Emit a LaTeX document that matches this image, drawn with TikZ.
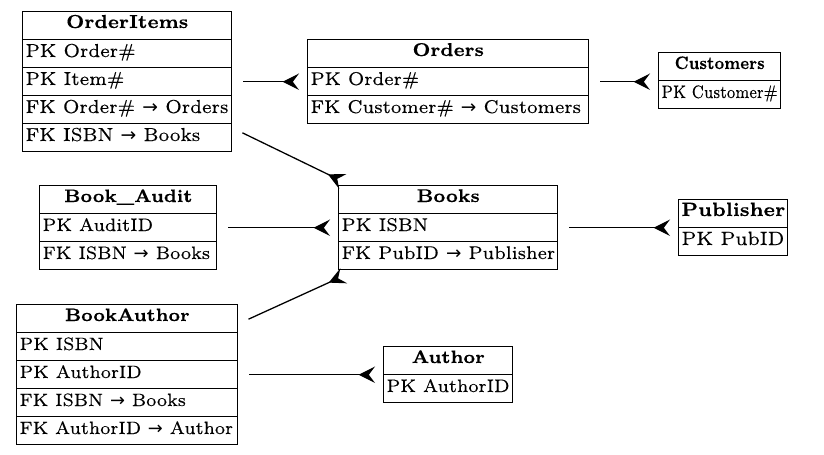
\documentclass[tikz,border=0pt]{standalone}
\usepackage{fontspec}
\setmainfont{lmroman7-regular.otf}[BoldFont=lmroman7-bold.otf, FakeBold=0.3]
\newfontfamily\cufont{lmroman7-regular.otf}[BoldFont=lmroman7-bold.otf, FakeStretch=0.83, FakeBold=0.3]
\newfontfamily\arrfont{DejaVu Sans}
\usetikzlibrary{arrows.meta,calc}
\newdimen\px
\px=0.3889pt
\def\tfs{7}
\def\tff{\relax}
\newcommand\ar{{\arrfont →}}
\tikzset{
  x=\px, y=-\px,
  tblbox/.style={draw, line width=0.58pt, anchor=north west, inner sep=0pt, minimum height=28*\px, minimum width=#1*\px},
  headtext/.style={anchor=base, inner sep=0pt, font=\tff\fontsize{\tfs}{9}\selectfont\bfseries},
  rowtext/.style={anchor=base west, inner sep=0pt, font=\tff\fontsize{\tfs}{9}\selectfont},
  rel/.style={line width=0.5pt, -{Stealth[reversed, length=6.4pt, width=6.4pt, inset=2.4pt]}, shorten <=11*\px, shorten >=8*\px},
}
\newcommand\tblhead[5]{%
  \node[tblbox=#4] (#1) at (#2,#3) {};
  \node[headtext] (#1t) at ($(#1.north)+(0,17)$) {#5};}
\newcommand\tblrow[5]{%
  \node[tblbox=#4] (#1) at (#2,#3) {};
  \node[rowtext] (#1t) at ($(#1.north west)+(3,18)$) {#5};}
\begin{document}
\begin{tikzpicture}
\useasboundingbox (0,0) rectangle (824,455);
% OrderItems
\def\tfs{7.3}
\tblhead{oi0}{22}{11}{209}{OrderItems}
\tblrow{oi1}{22}{39}{209}{PK Order\#}
\tblrow{oi2}{22}{67}{209}{PK Item\#}
\tblrow{oi3}{22}{95}{209}{FK Order\# \ar{} Orders}
\tblrow{oi4}{22}{123}{209}{FK ISBN \ar{} Books}
% Orders
\def\tfs{7.2}
\tblhead{or0}{307}{39}{281}{Orders}
\tblrow{or1}{307}{67}{281}{PK Order\#}
\tblrow{or2}{307}{95}{281}{FK Customer\# \ar{} Customers}
% Customers
\def\tfs{7}
\def\tff{\cufont}
\tblhead{cu0}{658}{52}{122}{Customers}
\tblrow{cu1}{658}{80}{122}{PK Customer\#}
\def\tff{\relax}
% Book_Audit
\def\tfs{7}
\tblhead{ba0}{39}{185}{177}{Book\_Audit}
\tblrow{ba1}{39}{213}{177}{PK AuditID}
\tblrow{ba2}{39}{241}{177}{FK ISBN \ar{} Books}
% Books
\def\tfs{7.15}
\tblhead{bk0}{338}{185}{219}{Books}
\tblrow{bk1}{338}{213}{219}{PK ISBN}
\tblrow{bk2}{338}{241}{219}{FK PubID \ar{} Publisher}
% Publisher
\def\tfs{7.5}
\tblhead{pu0}{678}{199}{109}{Publisher}
\tblrow{pu1}{678}{227}{109}{PK PubID}
% BookAuthor
\def\tfs{6.95}
\tblhead{bau0}{16}{304}{221}{BookAuthor}
\tblrow{bau1}{16}{332}{221}{PK ISBN}
\tblrow{bau2}{16}{360}{221}{PK AuthorID}
\tblrow{bau3}{16}{388}{221}{FK ISBN \ar{} Books}
\tblrow{bau4}{16}{416}{221}{FK AuthorID \ar{} Author}
% Author
\def\tfs{7}
\tblhead{au0}{383}{346}{129}{Author}
\tblrow{au1}{383}{374}{129}{PK AuthorID}
% connectors
\draw[rel] (oi2.east) -- (or1.west);
\draw[rel] (or1.east) -- (or1.east -| cu1.west);
\draw[rel] (ba1.east) -- (bk1.west);
\draw[rel] (bk1.east) -- (bk1.east -| pu1.west);
\draw[rel] (bau2.east) -- (bau2.east -| au1.west);
\draw[rel] ($(oi4.north east)+(0,5)$) -- ($(bk0.north west)+(12,0)$);
\draw[rel] ($(bau0.east)+(0,5)$) -- ($(bk2.south west)+(13,2)$);
\end{tikzpicture}
\end{document}
